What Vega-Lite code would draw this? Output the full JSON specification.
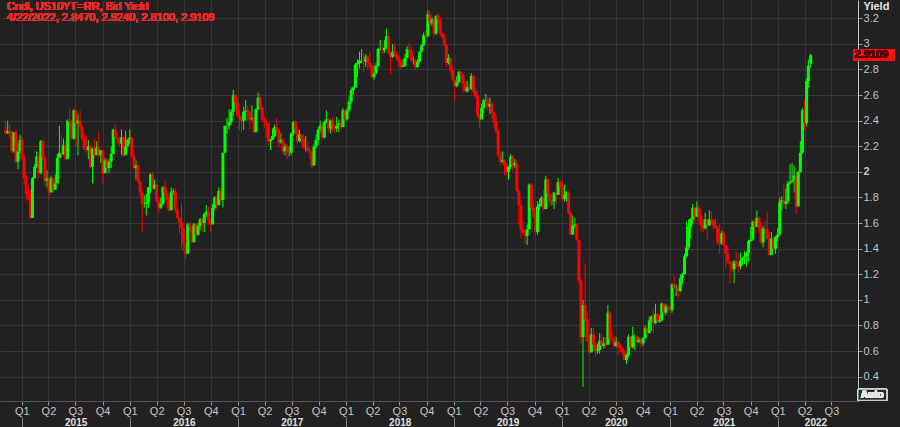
{
"$schema": "https://vega.github.io/schema/vega-lite/v6.json",
"width": 858, "height": 401,
"autosize": {"type": "none"},
"padding": {"left": 0, "top": 0, "right": 42, "bottom": 26},
"background": "#212121",
"config": {"view": {"stroke": null}, "font": "Liberation Sans"},
"data": {"values": [
{"d":"2014-11-07","o":2.33,"h":2.40,"l":2.29,"c":2.30},
{"d":"2014-11-14","o":2.30,"h":2.40,"l":2.30,"c":2.32},
{"d":"2014-11-21","o":2.32,"h":2.37,"l":2.27,"c":2.31},
{"d":"2014-11-28","o":2.31,"h":2.32,"l":2.15,"c":2.16},
{"d":"2014-12-05","o":2.16,"h":2.31,"l":2.15,"c":2.31},
{"d":"2014-12-12","o":2.31,"h":2.33,"l":2.07,"c":2.08},
{"d":"2014-12-19","o":2.08,"h":2.22,"l":2.02,"c":2.16},
{"d":"2014-12-26","o":2.16,"h":2.29,"l":2.14,"c":2.25},
{"d":"2015-01-02","o":2.25,"h":2.27,"l":2.09,"c":2.11},
{"d":"2015-01-09","o":2.11,"h":2.14,"l":1.90,"c":1.95},
{"d":"2015-01-16","o":1.95,"h":1.98,"l":1.77,"c":1.83},
{"d":"2015-01-23","o":1.83,"h":1.90,"l":1.78,"c":1.80},
{"d":"2015-01-30","o":1.80,"h":1.86,"l":1.64,"c":1.64},
{"d":"2015-02-06","o":1.64,"h":1.96,"l":1.64,"c":1.95},
{"d":"2015-02-13","o":1.95,"h":2.06,"l":1.95,"c":2.04},
{"d":"2015-02-20","o":2.04,"h":2.16,"l":2.03,"c":2.12},
{"d":"2015-02-27","o":2.12,"h":2.13,"l":1.95,"c":1.99},
{"d":"2015-03-06","o":1.99,"h":2.25,"l":1.98,"c":2.24},
{"d":"2015-03-13","o":2.24,"h":2.25,"l":2.09,"c":2.11},
{"d":"2015-03-20","o":2.11,"h":2.13,"l":1.89,"c":1.93},
{"d":"2015-03-27","o":1.93,"h":2.01,"l":1.88,"c":1.95},
{"d":"2015-04-03","o":1.95,"h":1.96,"l":1.79,"c":1.84},
{"d":"2015-04-10","o":1.84,"h":1.97,"l":1.84,"c":1.95},
{"d":"2015-04-17","o":1.95,"h":1.95,"l":1.84,"c":1.86},
{"d":"2015-04-24","o":1.86,"h":1.98,"l":1.86,"c":1.91},
{"d":"2015-05-01","o":1.91,"h":2.14,"l":1.91,"c":2.11},
{"d":"2015-05-08","o":2.11,"h":2.36,"l":2.11,"c":2.15},
{"d":"2015-05-15","o":2.15,"h":2.29,"l":2.12,"c":2.14},
{"d":"2015-05-22","o":2.14,"h":2.26,"l":2.13,"c":2.21},
{"d":"2015-05-29","o":2.21,"h":2.24,"l":2.09,"c":2.10},
{"d":"2015-06-05","o":2.10,"h":2.41,"l":2.10,"c":2.40},
{"d":"2015-06-12","o":2.40,"h":2.50,"l":2.35,"c":2.39},
{"d":"2015-06-19","o":2.39,"h":2.41,"l":2.25,"c":2.26},
{"d":"2015-06-26","o":2.26,"h":2.49,"l":2.25,"c":2.48},
{"d":"2015-07-03","o":2.48,"h":2.48,"l":2.20,"c":2.38},
{"d":"2015-07-10","o":2.38,"h":2.45,"l":2.13,"c":2.40},
{"d":"2015-07-17","o":2.40,"h":2.48,"l":2.33,"c":2.35},
{"d":"2015-07-24","o":2.35,"h":2.37,"l":2.24,"c":2.26},
{"d":"2015-07-31","o":2.26,"h":2.30,"l":2.17,"c":2.18},
{"d":"2015-08-07","o":2.18,"h":2.28,"l":2.15,"c":2.17},
{"d":"2015-08-14","o":2.17,"h":2.25,"l":2.10,"c":2.20},
{"d":"2015-08-21","o":2.20,"h":2.21,"l":2.03,"c":2.04},
{"d":"2015-08-28","o":2.04,"h":2.19,"l":1.91,"c":2.18},
{"d":"2015-09-04","o":2.18,"h":2.26,"l":2.11,"c":2.13},
{"d":"2015-09-11","o":2.13,"h":2.24,"l":2.13,"c":2.19},
{"d":"2015-09-18","o":2.19,"h":2.31,"l":2.12,"c":2.13},
{"d":"2015-09-25","o":2.13,"h":2.17,"l":2.07,"c":2.17},
{"d":"2015-10-02","o":2.17,"h":2.17,"l":1.91,"c":1.99},
{"d":"2015-10-09","o":1.99,"h":2.11,"l":1.99,"c":2.09},
{"d":"2015-10-16","o":2.09,"h":2.11,"l":1.98,"c":2.03},
{"d":"2015-10-23","o":2.03,"h":2.10,"l":1.99,"c":2.08},
{"d":"2015-10-30","o":2.08,"h":2.20,"l":2.03,"c":2.14},
{"d":"2015-11-06","o":2.14,"h":2.34,"l":2.14,"c":2.33},
{"d":"2015-11-13","o":2.33,"h":2.37,"l":2.26,"c":2.27},
{"d":"2015-11-20","o":2.27,"h":2.31,"l":2.22,"c":2.26},
{"d":"2015-11-27","o":2.26,"h":2.27,"l":2.20,"c":2.22},
{"d":"2015-12-04","o":2.22,"h":2.33,"l":2.13,"c":2.27},
{"d":"2015-12-11","o":2.27,"h":2.27,"l":2.12,"c":2.13},
{"d":"2015-12-18","o":2.13,"h":2.32,"l":2.13,"c":2.20},
{"d":"2015-12-25","o":2.20,"h":2.26,"l":2.19,"c":2.25},
{"d":"2016-01-01","o":2.25,"h":2.33,"l":2.22,"c":2.27},
{"d":"2016-01-08","o":2.27,"h":2.27,"l":2.11,"c":2.12},
{"d":"2016-01-15","o":2.12,"h":2.16,"l":2.02,"c":2.03},
{"d":"2016-01-22","o":2.03,"h":2.09,"l":1.94,"c":2.05},
{"d":"2016-01-29","o":2.05,"h":2.06,"l":1.91,"c":1.92},
{"d":"2016-02-05","o":1.92,"h":1.94,"l":1.81,"c":1.84},
{"d":"2016-02-12","o":1.84,"h":1.86,"l":1.53,"c":1.75},
{"d":"2016-02-19","o":1.75,"h":1.82,"l":1.72,"c":1.75},
{"d":"2016-02-26","o":1.75,"h":1.83,"l":1.66,"c":1.76},
{"d":"2016-03-04","o":1.76,"h":1.88,"l":1.72,"c":1.88},
{"d":"2016-03-11","o":1.88,"h":1.99,"l":1.83,"c":1.98},
{"d":"2016-03-18","o":1.98,"h":2.00,"l":1.87,"c":1.87},
{"d":"2016-03-25","o":1.87,"h":1.94,"l":1.86,"c":1.90},
{"d":"2016-04-01","o":1.90,"h":1.90,"l":1.76,"c":1.77},
{"d":"2016-04-08","o":1.77,"h":1.80,"l":1.68,"c":1.72},
{"d":"2016-04-15","o":1.72,"h":1.80,"l":1.71,"c":1.75},
{"d":"2016-04-22","o":1.75,"h":1.89,"l":1.74,"c":1.88},
{"d":"2016-04-29","o":1.88,"h":1.93,"l":1.80,"c":1.83},
{"d":"2016-05-06","o":1.83,"h":1.87,"l":1.72,"c":1.78},
{"d":"2016-05-13","o":1.78,"h":1.80,"l":1.69,"c":1.70},
{"d":"2016-05-20","o":1.70,"h":1.88,"l":1.70,"c":1.84},
{"d":"2016-05-27","o":1.84,"h":1.87,"l":1.82,"c":1.85},
{"d":"2016-06-03","o":1.85,"h":1.87,"l":1.68,"c":1.70},
{"d":"2016-06-10","o":1.70,"h":1.72,"l":1.64,"c":1.64},
{"d":"2016-06-17","o":1.64,"h":1.65,"l":1.52,"c":1.61},
{"d":"2016-06-24","o":1.61,"h":1.75,"l":1.40,"c":1.56},
{"d":"2016-07-01","o":1.56,"h":1.56,"l":1.38,"c":1.44},
{"d":"2016-07-08","o":1.44,"h":1.44,"l":1.32,"c":1.36},
{"d":"2016-07-15","o":1.36,"h":1.60,"l":1.36,"c":1.59},
{"d":"2016-07-22","o":1.59,"h":1.61,"l":1.54,"c":1.57},
{"d":"2016-07-29","o":1.57,"h":1.58,"l":1.44,"c":1.45},
{"d":"2016-08-05","o":1.45,"h":1.60,"l":1.45,"c":1.59},
{"d":"2016-08-12","o":1.59,"h":1.60,"l":1.50,"c":1.51},
{"d":"2016-08-19","o":1.51,"h":1.60,"l":1.50,"c":1.58},
{"d":"2016-08-26","o":1.58,"h":1.64,"l":1.55,"c":1.63},
{"d":"2016-09-02","o":1.63,"h":1.64,"l":1.53,"c":1.60},
{"d":"2016-09-09","o":1.60,"h":1.68,"l":1.53,"c":1.67},
{"d":"2016-09-16","o":1.67,"h":1.74,"l":1.65,"c":1.69},
{"d":"2016-09-23","o":1.69,"h":1.73,"l":1.59,"c":1.62},
{"d":"2016-09-30","o":1.62,"h":1.63,"l":1.53,"c":1.59},
{"d":"2016-10-07","o":1.59,"h":1.75,"l":1.59,"c":1.72},
{"d":"2016-10-14","o":1.72,"h":1.81,"l":1.70,"c":1.80},
{"d":"2016-10-21","o":1.80,"h":1.81,"l":1.71,"c":1.74},
{"d":"2016-10-28","o":1.74,"h":1.88,"l":1.74,"c":1.85},
{"d":"2016-11-04","o":1.85,"h":1.87,"l":1.76,"c":1.78},
{"d":"2016-11-11","o":1.78,"h":2.15,"l":1.72,"c":2.15},
{"d":"2016-11-18","o":2.15,"h":2.36,"l":2.15,"c":2.36},
{"d":"2016-11-25","o":2.36,"h":2.42,"l":2.30,"c":2.36},
{"d":"2016-12-02","o":2.36,"h":2.49,"l":2.33,"c":2.39},
{"d":"2016-12-09","o":2.39,"h":2.49,"l":2.37,"c":2.47},
{"d":"2016-12-16","o":2.47,"h":2.64,"l":2.44,"c":2.60},
{"d":"2016-12-23","o":2.60,"h":2.61,"l":2.49,"c":2.54},
{"d":"2016-12-30","o":2.54,"h":2.58,"l":2.43,"c":2.44},
{"d":"2017-01-06","o":2.44,"h":2.49,"l":2.33,"c":2.42},
{"d":"2017-01-13","o":2.42,"h":2.43,"l":2.31,"c":2.40},
{"d":"2017-01-20","o":2.40,"h":2.51,"l":2.33,"c":2.47},
{"d":"2017-01-27","o":2.47,"h":2.56,"l":2.40,"c":2.48},
{"d":"2017-02-03","o":2.48,"h":2.52,"l":2.40,"c":2.47},
{"d":"2017-02-10","o":2.47,"h":2.48,"l":2.33,"c":2.41},
{"d":"2017-02-17","o":2.41,"h":2.52,"l":2.40,"c":2.42},
{"d":"2017-02-24","o":2.42,"h":2.45,"l":2.31,"c":2.31},
{"d":"2017-03-03","o":2.31,"h":2.50,"l":2.31,"c":2.49},
{"d":"2017-03-10","o":2.49,"h":2.62,"l":2.48,"c":2.58},
{"d":"2017-03-17","o":2.58,"h":2.61,"l":2.48,"c":2.50},
{"d":"2017-03-24","o":2.50,"h":2.51,"l":2.40,"c":2.41},
{"d":"2017-03-31","o":2.41,"h":2.43,"l":2.34,"c":2.39},
{"d":"2017-04-07","o":2.39,"h":2.41,"l":2.27,"c":2.38},
{"d":"2017-04-14","o":2.38,"h":2.38,"l":2.21,"c":2.24},
{"d":"2017-04-21","o":2.24,"h":2.26,"l":2.17,"c":2.25},
{"d":"2017-04-28","o":2.25,"h":2.34,"l":2.25,"c":2.28},
{"d":"2017-05-05","o":2.28,"h":2.37,"l":2.27,"c":2.35},
{"d":"2017-05-12","o":2.35,"h":2.42,"l":2.31,"c":2.33},
{"d":"2017-05-19","o":2.33,"h":2.34,"l":2.19,"c":2.23},
{"d":"2017-05-26","o":2.23,"h":2.30,"l":2.22,"c":2.25},
{"d":"2017-06-02","o":2.25,"h":2.26,"l":2.14,"c":2.16},
{"d":"2017-06-09","o":2.16,"h":2.22,"l":2.13,"c":2.20},
{"d":"2017-06-16","o":2.20,"h":2.22,"l":2.10,"c":2.15},
{"d":"2017-06-23","o":2.15,"h":2.20,"l":2.12,"c":2.15},
{"d":"2017-06-30","o":2.15,"h":2.31,"l":2.13,"c":2.30},
{"d":"2017-07-07","o":2.30,"h":2.40,"l":2.28,"c":2.39},
{"d":"2017-07-14","o":2.39,"h":2.40,"l":2.29,"c":2.33},
{"d":"2017-07-21","o":2.33,"h":2.35,"l":2.22,"c":2.24},
{"d":"2017-07-28","o":2.24,"h":2.33,"l":2.23,"c":2.29},
{"d":"2017-08-04","o":2.29,"h":2.30,"l":2.21,"c":2.26},
{"d":"2017-08-11","o":2.26,"h":2.29,"l":2.18,"c":2.19},
{"d":"2017-08-18","o":2.19,"h":2.28,"l":2.16,"c":2.19},
{"d":"2017-08-25","o":2.19,"h":2.24,"l":2.15,"c":2.17},
{"d":"2017-09-01","o":2.17,"h":2.20,"l":2.10,"c":2.16},
{"d":"2017-09-08","o":2.16,"h":2.16,"l":2.03,"c":2.05},
{"d":"2017-09-15","o":2.05,"h":2.22,"l":2.05,"c":2.20},
{"d":"2017-09-22","o":2.20,"h":2.29,"l":2.18,"c":2.25},
{"d":"2017-09-29","o":2.25,"h":2.35,"l":2.21,"c":2.33},
{"d":"2017-10-06","o":2.33,"h":2.40,"l":2.31,"c":2.36},
{"d":"2017-10-13","o":2.36,"h":2.37,"l":2.25,"c":2.27},
{"d":"2017-10-20","o":2.27,"h":2.40,"l":2.26,"c":2.39},
{"d":"2017-10-27","o":2.39,"h":2.48,"l":2.38,"c":2.41},
{"d":"2017-11-03","o":2.41,"h":2.42,"l":2.31,"c":2.34},
{"d":"2017-11-10","o":2.34,"h":2.41,"l":2.30,"c":2.40},
{"d":"2017-11-17","o":2.40,"h":2.43,"l":2.32,"c":2.35},
{"d":"2017-11-24","o":2.35,"h":2.37,"l":2.31,"c":2.34},
{"d":"2017-12-01","o":2.34,"h":2.43,"l":2.31,"c":2.36},
{"d":"2017-12-08","o":2.36,"h":2.41,"l":2.31,"c":2.38},
{"d":"2017-12-15","o":2.38,"h":2.41,"l":2.33,"c":2.35},
{"d":"2017-12-22","o":2.35,"h":2.50,"l":2.35,"c":2.48},
{"d":"2017-12-29","o":2.48,"h":2.49,"l":2.40,"c":2.41},
{"d":"2018-01-05","o":2.41,"h":2.50,"l":2.40,"c":2.48},
{"d":"2018-01-12","o":2.48,"h":2.59,"l":2.47,"c":2.55},
{"d":"2018-01-19","o":2.55,"h":2.66,"l":2.53,"c":2.64},
{"d":"2018-01-26","o":2.64,"h":2.67,"l":2.60,"c":2.66},
{"d":"2018-02-02","o":2.66,"h":2.85,"l":2.66,"c":2.84},
{"d":"2018-02-09","o":2.84,"h":2.88,"l":2.74,"c":2.85},
{"d":"2018-02-16","o":2.85,"h":2.94,"l":2.81,"c":2.87},
{"d":"2018-02-23","o":2.87,"h":2.96,"l":2.85,"c":2.87},
{"d":"2018-03-02","o":2.87,"h":2.93,"l":2.78,"c":2.86},
{"d":"2018-03-09","o":2.86,"h":2.92,"l":2.82,"c":2.90},
{"d":"2018-03-16","o":2.90,"h":2.91,"l":2.80,"c":2.85},
{"d":"2018-03-23","o":2.85,"h":2.94,"l":2.81,"c":2.82},
{"d":"2018-03-30","o":2.82,"h":2.85,"l":2.73,"c":2.74},
{"d":"2018-04-06","o":2.74,"h":2.83,"l":2.72,"c":2.77},
{"d":"2018-04-13","o":2.77,"h":2.85,"l":2.76,"c":2.83},
{"d":"2018-04-20","o":2.83,"h":2.97,"l":2.82,"c":2.96},
{"d":"2018-04-27","o":2.96,"h":3.03,"l":2.95,"c":2.96},
{"d":"2018-05-04","o":2.96,"h":2.99,"l":2.92,"c":2.95},
{"d":"2018-05-11","o":2.95,"h":3.03,"l":2.93,"c":2.97},
{"d":"2018-05-18","o":2.97,"h":3.12,"l":2.96,"c":3.06},
{"d":"2018-05-25","o":3.06,"h":3.07,"l":2.92,"c":2.93},
{"d":"2018-06-01","o":2.93,"h":2.94,"l":2.76,"c":2.90},
{"d":"2018-06-08","o":2.90,"h":3.00,"l":2.89,"c":2.94},
{"d":"2018-06-15","o":2.94,"h":3.01,"l":2.90,"c":2.92},
{"d":"2018-06-22","o":2.92,"h":2.94,"l":2.87,"c":2.89},
{"d":"2018-06-29","o":2.89,"h":2.91,"l":2.82,"c":2.86},
{"d":"2018-07-06","o":2.86,"h":2.88,"l":2.80,"c":2.82},
{"d":"2018-07-13","o":2.82,"h":2.88,"l":2.82,"c":2.83},
{"d":"2018-07-20","o":2.83,"h":2.92,"l":2.82,"c":2.89},
{"d":"2018-07-27","o":2.89,"h":2.98,"l":2.89,"c":2.96},
{"d":"2018-08-03","o":2.96,"h":3.01,"l":2.94,"c":2.95},
{"d":"2018-08-10","o":2.95,"h":2.98,"l":2.86,"c":2.87},
{"d":"2018-08-17","o":2.87,"h":2.90,"l":2.84,"c":2.87},
{"d":"2018-08-24","o":2.87,"h":2.88,"l":2.80,"c":2.82},
{"d":"2018-08-31","o":2.82,"h":2.88,"l":2.81,"c":2.86},
{"d":"2018-09-07","o":2.86,"h":2.94,"l":2.85,"c":2.94},
{"d":"2018-09-14","o":2.94,"h":3.00,"l":2.93,"c":2.99},
{"d":"2018-09-21","o":2.99,"h":3.09,"l":2.98,"c":3.07},
{"d":"2018-09-28","o":3.07,"h":3.11,"l":3.04,"c":3.06},
{"d":"2018-10-05","o":3.06,"h":3.26,"l":3.05,"c":3.23},
{"d":"2018-10-12","o":3.23,"h":3.26,"l":3.13,"c":3.16},
{"d":"2018-10-19","o":3.16,"h":3.21,"l":3.14,"c":3.19},
{"d":"2018-10-26","o":3.19,"h":3.20,"l":3.06,"c":3.08},
{"d":"2018-11-02","o":3.08,"h":3.22,"l":3.07,"c":3.22},
{"d":"2018-11-09","o":3.22,"h":3.24,"l":3.16,"c":3.19},
{"d":"2018-11-16","o":3.19,"h":3.20,"l":3.06,"c":3.08},
{"d":"2018-11-23","o":3.08,"h":3.09,"l":3.04,"c":3.05},
{"d":"2018-11-30","o":3.05,"h":3.08,"l":2.98,"c":2.99},
{"d":"2018-12-07","o":2.99,"h":3.00,"l":2.82,"c":2.85},
{"d":"2018-12-14","o":2.85,"h":2.92,"l":2.84,"c":2.89},
{"d":"2018-12-21","o":2.89,"h":2.89,"l":2.77,"c":2.79},
{"d":"2018-12-28","o":2.79,"h":2.82,"l":2.71,"c":2.72},
{"d":"2019-01-04","o":2.72,"h":2.72,"l":2.55,"c":2.67},
{"d":"2019-01-11","o":2.67,"h":2.75,"l":2.66,"c":2.70},
{"d":"2019-01-18","o":2.70,"h":2.79,"l":2.69,"c":2.78},
{"d":"2019-01-25","o":2.78,"h":2.79,"l":2.71,"c":2.76},
{"d":"2019-02-01","o":2.76,"h":2.77,"l":2.62,"c":2.69},
{"d":"2019-02-08","o":2.69,"h":2.73,"l":2.62,"c":2.63},
{"d":"2019-02-15","o":2.63,"h":2.71,"l":2.62,"c":2.66},
{"d":"2019-02-22","o":2.66,"h":2.69,"l":2.63,"c":2.65},
{"d":"2019-03-01","o":2.65,"h":2.77,"l":2.64,"c":2.75},
{"d":"2019-03-08","o":2.75,"h":2.76,"l":2.61,"c":2.63},
{"d":"2019-03-15","o":2.63,"h":2.66,"l":2.58,"c":2.59},
{"d":"2019-03-22","o":2.59,"h":2.64,"l":2.43,"c":2.44},
{"d":"2019-03-29","o":2.44,"h":2.45,"l":2.34,"c":2.41},
{"d":"2019-04-05","o":2.41,"h":2.53,"l":2.41,"c":2.50},
{"d":"2019-04-12","o":2.50,"h":2.57,"l":2.46,"c":2.56},
{"d":"2019-04-19","o":2.56,"h":2.61,"l":2.55,"c":2.56},
{"d":"2019-04-26","o":2.56,"h":2.59,"l":2.48,"c":2.51},
{"d":"2019-05-03","o":2.51,"h":2.58,"l":2.45,"c":2.53},
{"d":"2019-05-10","o":2.53,"h":2.55,"l":2.42,"c":2.46},
{"d":"2019-05-17","o":2.46,"h":2.47,"l":2.35,"c":2.39},
{"d":"2019-05-24","o":2.39,"h":2.44,"l":2.30,"c":2.32},
{"d":"2019-05-31","o":2.32,"h":2.33,"l":2.12,"c":2.13},
{"d":"2019-06-07","o":2.13,"h":2.16,"l":2.05,"c":2.08},
{"d":"2019-06-14","o":2.08,"h":2.16,"l":2.07,"c":2.09},
{"d":"2019-06-21","o":2.09,"h":2.10,"l":1.97,"c":2.05},
{"d":"2019-06-28","o":2.05,"h":2.07,"l":1.98,"c":2.00},
{"d":"2019-07-05","o":2.00,"h":2.05,"l":1.94,"c":2.04},
{"d":"2019-07-12","o":2.04,"h":2.14,"l":2.02,"c":2.12},
{"d":"2019-07-19","o":2.12,"h":2.13,"l":2.01,"c":2.05},
{"d":"2019-07-26","o":2.05,"h":2.10,"l":2.03,"c":2.07},
{"d":"2019-08-02","o":2.07,"h":2.09,"l":1.84,"c":1.85},
{"d":"2019-08-09","o":1.85,"h":1.86,"l":1.59,"c":1.74},
{"d":"2019-08-16","o":1.74,"h":1.78,"l":1.48,"c":1.55},
{"d":"2019-08-23","o":1.55,"h":1.62,"l":1.51,"c":1.52},
{"d":"2019-08-30","o":1.52,"h":1.55,"l":1.44,"c":1.50},
{"d":"2019-09-06","o":1.50,"h":1.59,"l":1.43,"c":1.55},
{"d":"2019-09-13","o":1.55,"h":1.91,"l":1.55,"c":1.90},
{"d":"2019-09-20","o":1.90,"h":1.91,"l":1.72,"c":1.72},
{"d":"2019-09-27","o":1.72,"h":1.77,"l":1.64,"c":1.68},
{"d":"2019-10-04","o":1.68,"h":1.69,"l":1.51,"c":1.53},
{"d":"2019-10-11","o":1.53,"h":1.77,"l":1.51,"c":1.73},
{"d":"2019-10-18","o":1.73,"h":1.79,"l":1.70,"c":1.75},
{"d":"2019-10-25","o":1.75,"h":1.81,"l":1.73,"c":1.80},
{"d":"2019-11-01","o":1.80,"h":1.86,"l":1.69,"c":1.71},
{"d":"2019-11-08","o":1.71,"h":1.97,"l":1.71,"c":1.94},
{"d":"2019-11-15","o":1.94,"h":1.95,"l":1.81,"c":1.83},
{"d":"2019-11-22","o":1.83,"h":1.83,"l":1.73,"c":1.77},
{"d":"2019-11-29","o":1.77,"h":1.78,"l":1.74,"c":1.77},
{"d":"2019-12-06","o":1.77,"h":1.84,"l":1.71,"c":1.84},
{"d":"2019-12-13","o":1.84,"h":1.91,"l":1.76,"c":1.82},
{"d":"2019-12-20","o":1.82,"h":1.95,"l":1.82,"c":1.92},
{"d":"2019-12-27","o":1.92,"h":1.94,"l":1.87,"c":1.88},
{"d":"2020-01-03","o":1.88,"h":1.93,"l":1.76,"c":1.79},
{"d":"2020-01-10","o":1.79,"h":1.90,"l":1.77,"c":1.82},
{"d":"2020-01-17","o":1.82,"h":1.85,"l":1.77,"c":1.84},
{"d":"2020-01-24","o":1.84,"h":1.85,"l":1.67,"c":1.68},
{"d":"2020-01-31","o":1.68,"h":1.69,"l":1.51,"c":1.51},
{"d":"2020-02-07","o":1.51,"h":1.66,"l":1.51,"c":1.58},
{"d":"2020-02-14","o":1.58,"h":1.64,"l":1.56,"c":1.59},
{"d":"2020-02-21","o":1.59,"h":1.60,"l":1.46,"c":1.47},
{"d":"2020-02-28","o":1.47,"h":1.47,"l":1.12,"c":1.15},
{"d":"2020-03-06","o":1.15,"h":1.17,"l":0.66,"c":0.71},
{"d":"2020-03-13","o":0.71,"h":1.00,"l":0.32,"c":0.96},
{"d":"2020-03-20","o":0.96,"h":1.28,"l":0.83,"c":0.85},
{"d":"2020-03-27","o":0.85,"h":0.91,"l":0.67,"c":0.68},
{"d":"2020-04-03","o":0.68,"h":0.72,"l":0.57,"c":0.59},
{"d":"2020-04-10","o":0.59,"h":0.78,"l":0.59,"c":0.73},
{"d":"2020-04-17","o":0.73,"h":0.78,"l":0.60,"c":0.65},
{"d":"2020-04-24","o":0.65,"h":0.67,"l":0.56,"c":0.60},
{"d":"2020-05-01","o":0.60,"h":0.66,"l":0.58,"c":0.61},
{"d":"2020-05-08","o":0.61,"h":0.74,"l":0.58,"c":0.68},
{"d":"2020-05-15","o":0.68,"h":0.73,"l":0.61,"c":0.64},
{"d":"2020-05-22","o":0.64,"h":0.71,"l":0.62,"c":0.66},
{"d":"2020-05-29","o":0.66,"h":0.71,"l":0.62,"c":0.65},
{"d":"2020-06-05","o":0.65,"h":0.96,"l":0.65,"c":0.90},
{"d":"2020-06-12","o":0.90,"h":0.91,"l":0.65,"c":0.70},
{"d":"2020-06-19","o":0.70,"h":0.77,"l":0.68,"c":0.69},
{"d":"2020-06-26","o":0.69,"h":0.72,"l":0.63,"c":0.64},
{"d":"2020-07-03","o":0.64,"h":0.71,"l":0.63,"c":0.67},
{"d":"2020-07-10","o":0.67,"h":0.68,"l":0.57,"c":0.64},
{"d":"2020-07-17","o":0.64,"h":0.66,"l":0.59,"c":0.62},
{"d":"2020-07-24","o":0.62,"h":0.63,"l":0.57,"c":0.59},
{"d":"2020-07-31","o":0.59,"h":0.61,"l":0.53,"c":0.53},
{"d":"2020-08-07","o":0.53,"h":0.58,"l":0.50,"c":0.57},
{"d":"2020-08-14","o":0.57,"h":0.73,"l":0.55,"c":0.71},
{"d":"2020-08-21","o":0.71,"h":0.71,"l":0.62,"c":0.63},
{"d":"2020-08-28","o":0.63,"h":0.79,"l":0.62,"c":0.72},
{"d":"2020-09-04","o":0.72,"h":0.73,"l":0.61,"c":0.72},
{"d":"2020-09-11","o":0.72,"h":0.72,"l":0.66,"c":0.67},
{"d":"2020-09-18","o":0.67,"h":0.71,"l":0.66,"c":0.69},
{"d":"2020-09-25","o":0.69,"h":0.69,"l":0.63,"c":0.66},
{"d":"2020-10-02","o":0.66,"h":0.71,"l":0.64,"c":0.70},
{"d":"2020-10-09","o":0.70,"h":0.80,"l":0.70,"c":0.78},
{"d":"2020-10-16","o":0.78,"h":0.78,"l":0.71,"c":0.74},
{"d":"2020-10-23","o":0.74,"h":0.87,"l":0.74,"c":0.84},
{"d":"2020-10-30","o":0.84,"h":0.88,"l":0.76,"c":0.87},
{"d":"2020-11-06","o":0.87,"h":0.93,"l":0.74,"c":0.82},
{"d":"2020-11-13","o":0.82,"h":0.97,"l":0.81,"c":0.89},
{"d":"2020-11-20","o":0.89,"h":0.90,"l":0.82,"c":0.83},
{"d":"2020-11-27","o":0.83,"h":0.88,"l":0.82,"c":0.84},
{"d":"2020-12-04","o":0.84,"h":0.98,"l":0.83,"c":0.97},
{"d":"2020-12-11","o":0.97,"h":0.97,"l":0.88,"c":0.90},
{"d":"2020-12-18","o":0.90,"h":0.97,"l":0.88,"c":0.95},
{"d":"2020-12-25","o":0.95,"h":0.96,"l":0.91,"c":0.94},
{"d":"2021-01-01","o":0.94,"h":0.95,"l":0.90,"c":0.92},
{"d":"2021-01-08","o":0.92,"h":1.13,"l":0.90,"c":1.12},
{"d":"2021-01-15","o":1.12,"h":1.19,"l":1.08,"c":1.09},
{"d":"2021-01-22","o":1.09,"h":1.12,"l":1.03,"c":1.09},
{"d":"2021-01-29","o":1.09,"h":1.11,"l":1.01,"c":1.07},
{"d":"2021-02-05","o":1.07,"h":1.20,"l":1.06,"c":1.17},
{"d":"2021-02-12","o":1.17,"h":1.21,"l":1.12,"c":1.20},
{"d":"2021-02-19","o":1.20,"h":1.36,"l":1.20,"c":1.34},
{"d":"2021-02-26","o":1.34,"h":1.61,"l":1.33,"c":1.41},
{"d":"2021-03-05","o":1.41,"h":1.63,"l":1.39,"c":1.57},
{"d":"2021-03-12","o":1.57,"h":1.64,"l":1.48,"c":1.63},
{"d":"2021-03-19","o":1.63,"h":1.75,"l":1.59,"c":1.72},
{"d":"2021-03-26","o":1.72,"h":1.73,"l":1.60,"c":1.65},
{"d":"2021-04-02","o":1.65,"h":1.77,"l":1.65,"c":1.72},
{"d":"2021-04-09","o":1.72,"h":1.74,"l":1.61,"c":1.66},
{"d":"2021-04-16","o":1.66,"h":1.70,"l":1.53,"c":1.58},
{"d":"2021-04-23","o":1.58,"h":1.63,"l":1.53,"c":1.56},
{"d":"2021-04-30","o":1.56,"h":1.68,"l":1.55,"c":1.63},
{"d":"2021-05-07","o":1.63,"h":1.63,"l":1.47,"c":1.58},
{"d":"2021-05-14","o":1.58,"h":1.70,"l":1.58,"c":1.63},
{"d":"2021-05-21","o":1.63,"h":1.69,"l":1.60,"c":1.62},
{"d":"2021-05-28","o":1.62,"h":1.63,"l":1.55,"c":1.58},
{"d":"2021-06-04","o":1.58,"h":1.64,"l":1.56,"c":1.56},
{"d":"2021-06-11","o":1.56,"h":1.58,"l":1.43,"c":1.45},
{"d":"2021-06-18","o":1.45,"h":1.59,"l":1.36,"c":1.44},
{"d":"2021-06-25","o":1.44,"h":1.54,"l":1.43,"c":1.52},
{"d":"2021-07-02","o":1.52,"h":1.53,"l":1.41,"c":1.43},
{"d":"2021-07-09","o":1.43,"h":1.43,"l":1.25,"c":1.36},
{"d":"2021-07-16","o":1.36,"h":1.42,"l":1.28,"c":1.30},
{"d":"2021-07-23","o":1.30,"h":1.30,"l":1.13,"c":1.28},
{"d":"2021-07-30","o":1.28,"h":1.30,"l":1.22,"c":1.24},
{"d":"2021-08-06","o":1.24,"h":1.31,"l":1.13,"c":1.30},
{"d":"2021-08-13","o":1.30,"h":1.38,"l":1.26,"c":1.28},
{"d":"2021-08-20","o":1.28,"h":1.29,"l":1.21,"c":1.26},
{"d":"2021-08-27","o":1.26,"h":1.37,"l":1.24,"c":1.31},
{"d":"2021-09-03","o":1.31,"h":1.33,"l":1.27,"c":1.33},
{"d":"2021-09-10","o":1.33,"h":1.38,"l":1.28,"c":1.34},
{"d":"2021-09-17","o":1.34,"h":1.38,"l":1.26,"c":1.37},
{"d":"2021-09-24","o":1.37,"h":1.47,"l":1.30,"c":1.46},
{"d":"2021-10-01","o":1.46,"h":1.57,"l":1.45,"c":1.47},
{"d":"2021-10-08","o":1.47,"h":1.62,"l":1.46,"c":1.61},
{"d":"2021-10-15","o":1.61,"h":1.63,"l":1.51,"c":1.57},
{"d":"2021-10-22","o":1.57,"h":1.70,"l":1.57,"c":1.64},
{"d":"2021-10-29","o":1.64,"h":1.65,"l":1.52,"c":1.56},
{"d":"2021-11-05","o":1.56,"h":1.61,"l":1.43,"c":1.45},
{"d":"2021-11-12","o":1.45,"h":1.58,"l":1.41,"c":1.56},
{"d":"2021-11-19","o":1.56,"h":1.62,"l":1.52,"c":1.55},
{"d":"2021-11-26","o":1.55,"h":1.69,"l":1.47,"c":1.48},
{"d":"2021-12-03","o":1.48,"h":1.53,"l":1.34,"c":1.35},
{"d":"2021-12-10","o":1.35,"h":1.53,"l":1.35,"c":1.48},
{"d":"2021-12-17","o":1.48,"h":1.50,"l":1.38,"c":1.40},
{"d":"2021-12-24","o":1.40,"h":1.50,"l":1.36,"c":1.49},
{"d":"2021-12-31","o":1.49,"h":1.56,"l":1.46,"c":1.51},
{"d":"2022-01-07","o":1.51,"h":1.80,"l":1.50,"c":1.76},
{"d":"2022-01-14","o":1.76,"h":1.81,"l":1.70,"c":1.78},
{"d":"2022-01-21","o":1.78,"h":1.90,"l":1.72,"c":1.75},
{"d":"2022-01-28","o":1.75,"h":1.87,"l":1.71,"c":1.77},
{"d":"2022-02-04","o":1.77,"h":1.93,"l":1.75,"c":1.91},
{"d":"2022-02-11","o":1.91,"h":2.06,"l":1.90,"c":1.92},
{"d":"2022-02-18","o":1.92,"h":2.07,"l":1.92,"c":1.93},
{"d":"2022-02-25","o":1.93,"h":2.05,"l":1.84,"c":1.97},
{"d":"2022-03-04","o":1.97,"h":1.99,"l":1.67,"c":1.73},
{"d":"2022-03-11","o":1.73,"h":2.01,"l":1.73,"c":2.00},
{"d":"2022-03-18","o":2.00,"h":2.24,"l":1.99,"c":2.15},
{"d":"2022-03-25","o":2.15,"h":2.50,"l":2.14,"c":2.48},
{"d":"2022-04-01","o":2.48,"h":2.56,"l":2.33,"c":2.38},
{"d":"2022-04-08","o":2.38,"h":2.73,"l":2.36,"c":2.71},
{"d":"2022-04-14","o":2.71,"h":2.88,"l":2.66,"c":2.83},
{"d":"2022-04-22","o":2.847,"h":2.924,"l":2.81,"c":2.9109}
]},
"resolve": {"scale": {"x": "shared", "y": "shared"}, "axis": {"x": "independent", "y": "independent"}},
"layer": [
{
"mark": {"type": "rule", "strokeWidth": 1},
"encoding": {
"x": {"field": "d", "type": "temporal",
 "scale": {"type": "utc", "domain": [{"year": 2014, "month": 11, "date": 5, "utc": true}, {"year": 2022, "month": 9, "date": 12, "utc": true}]},
 "axis": {"orient": "bottom", "title": null,
  "values": [{"year":2015,"month":1,"date":1,"utc":true},{"year":2015,"month":4,"date":1,"utc":true},{"year":2015,"month":7,"date":1,"utc":true},{"year":2015,"month":10,"date":1,"utc":true},
   {"year":2016,"month":1,"date":1,"utc":true},{"year":2016,"month":4,"date":1,"utc":true},{"year":2016,"month":7,"date":1,"utc":true},{"year":2016,"month":10,"date":1,"utc":true},
   {"year":2017,"month":1,"date":1,"utc":true},{"year":2017,"month":4,"date":1,"utc":true},{"year":2017,"month":7,"date":1,"utc":true},{"year":2017,"month":10,"date":1,"utc":true},
   {"year":2018,"month":1,"date":1,"utc":true},{"year":2018,"month":4,"date":1,"utc":true},{"year":2018,"month":7,"date":1,"utc":true},{"year":2018,"month":10,"date":1,"utc":true},
   {"year":2019,"month":1,"date":1,"utc":true},{"year":2019,"month":4,"date":1,"utc":true},{"year":2019,"month":7,"date":1,"utc":true},{"year":2019,"month":10,"date":1,"utc":true},
   {"year":2020,"month":1,"date":1,"utc":true},{"year":2020,"month":4,"date":1,"utc":true},{"year":2020,"month":7,"date":1,"utc":true},{"year":2020,"month":10,"date":1,"utc":true},
   {"year":2021,"month":1,"date":1,"utc":true},{"year":2021,"month":4,"date":1,"utc":true},{"year":2021,"month":7,"date":1,"utc":true},{"year":2021,"month":10,"date":1,"utc":true},
   {"year":2022,"month":1,"date":1,"utc":true},{"year":2022,"month":4,"date":1,"utc":true},{"year":2022,"month":7,"date":1,"utc":true}],
  "labelExpr": "'Q' + (floor(utcmonth(datum.value) / 3) + 1)",
  "grid": true, "gridColor": "#363636", "gridWidth": 1,
  "domainColor": "#555555", "tickColor": "#9a9a9a", "tickSize": 4,
  "labelColor": "#c4c4c4", "labelFont": "Liberation Sans", "labelFontSize": 11, "labelPadding": 0,
  "labelOverlap": false, "labelFlush": false, "labelBound": false}},
"y": {"field": "l", "type": "quantitative",
 "scale": {"domain": [0.21, 3.343], "nice": false, "zero": false},
 "axis": {"orient": "right",
  "values": [0.4, 0.6, 0.8, 1, 1.2, 1.4, 1.6, 1.8, 2, 2.2, 2.4, 2.6, 2.8, 3, 3.2],
  "format": "~g", "grid": true, "gridColor": "#363636", "gridWidth": 1,
  "domainColor": "#c8c8c8", "tickColor": "#9a9a9a", "tickSize": 4,
  "labelColor": "#c4c4c4", "labelFont": "Liberation Sans", "labelFontSize": 11, "labelPadding": 1,
  "labelFontWeight": {"condition": {"test": "datum.value == 2", "value": "bold"}, "value": "normal"},
  "labelOverlap": false, "labelFlush": false, "labelBound": false,
  "title": "Yield", "titleAngle": 0, "titleAlign": "left", "titleBaseline": "alphabetic",
  "titleX": 5, "titleY": 9, "titleColor": "#e6e6e6", "titleFont": "Liberation Sans", "titleFontSize": 11, "titleFontWeight": "bold"}},
"y2": {"field": "h"},
"color": {"condition": {"test": "datum.c >= datum.o", "value": "#00ff00"}, "value": "#ff0000"}
}
},
{
"mark": {"type": "bar", "size": 3},
"encoding": {
"x": {"field": "d", "type": "temporal",
 "axis": {"orient": "bottom", "title": null, "offset": 16, "domain": false, "grid": false,
  "values": [{"year":2015,"month":1,"date":1,"utc":true},{"year":2015,"month":7,"date":2,"utc":true},
   {"year":2016,"month":1,"date":1,"utc":true},{"year":2016,"month":7,"date":2,"utc":true},
   {"year":2017,"month":1,"date":1,"utc":true},{"year":2017,"month":7,"date":2,"utc":true},
   {"year":2018,"month":1,"date":1,"utc":true},{"year":2018,"month":7,"date":2,"utc":true},
   {"year":2019,"month":1,"date":1,"utc":true},{"year":2019,"month":7,"date":2,"utc":true},
   {"year":2020,"month":1,"date":1,"utc":true},{"year":2020,"month":7,"date":2,"utc":true},
   {"year":2021,"month":1,"date":1,"utc":true},{"year":2021,"month":7,"date":2,"utc":true},
   {"year":2022,"month":1,"date":1,"utc":true},{"year":2022,"month":5,"date":8,"utc":true}],
  "labelExpr": "utcmonth(datum.value) == 0 ? '' : '' + utcyear(datum.value)",
  "tickSize": 10, "tickColor": "#808080",
  "tickOpacity": {"condition": {"test": "utcmonth(datum.value) == 0", "value": 1}, "value": 0},
  "labelPadding": -10, "labelColor": "#e0e0e0", "labelFont": "Liberation Sans", "labelFontSize": 10, "labelFontWeight": "bold",
  "labelOverlap": false, "labelFlush": false, "labelBound": false}},
"y": {"field": "o", "type": "quantitative", "axis": null},
"y2": {"field": "c"},
"color": {"condition": {"test": "datum.c >= datum.o", "value": "#00ff00"}, "value": "#ff0000"}
}
},
{
"mark": {"type": "text", "align": "left", "baseline": "top", "color": "#e82a2a", "font": "Liberation Sans", "fontSize": 11, "lineHeight": 11, "clip": false},
"encoding": {
"x": {"datum": {"year": 2014, "month": 11, "date": 11, "utc": true}, "type": "temporal", "axis": null},
"y": {"datum": 3.337, "type": "quantitative", "axis": null},
"text": {"value": ["Cndl, US10YT=RR, Bid Yield", "4/22/2022, 2.8470, 2.9240, 2.8100, 2.9109"]}
}
},
{
"mark": {"type": "rect", "color": "#ff1010", "clip": false},
"encoding": {
"x": {"datum": {"year": 2022, "month": 9, "date": 13, "utc": true}, "type": "temporal", "axis": null},
"x2": {"datum": {"year": 2023, "month": 1, "date": 31, "utc": true}},
"y": {"datum": 2.958, "type": "quantitative", "axis": null},
"y2": {"datum": 2.872}
}
},
{
"mark": {"type": "text", "align": "left", "baseline": "middle", "color": "#5a0000", "font": "Liberation Sans", "fontSize": 11, "fontWeight": "bold", "clip": false},
"encoding": {
"x": {"datum": {"year": 2022, "month": 9, "date": 17, "utc": true}, "type": "temporal", "axis": null},
"y": {"datum": 2.914, "type": "quantitative", "axis": null},
"text": {"value": "2.9109"}
}
},
{
"mark": {"type": "rect", "fill": "#2a2a2a", "stroke": "#d8d8d8", "strokeWidth": 1, "clip": false},
"encoding": {
"x": {"datum": {"year": 2022, "month": 9, "date": 29, "utc": true}, "type": "temporal", "axis": null},
"x2": {"datum": {"year": 2023, "month": 1, "date": 4, "utc": true}},
"y": {"datum": 0.302, "type": "quantitative", "axis": null},
"y2": {"datum": 0.216}
}
},
{
"mark": {"type": "text", "align": "center", "baseline": "middle", "color": "#e8e8e8", "font": "Liberation Sans", "fontSize": 10, "fontWeight": "bold", "clip": false},
"encoding": {
"x": {"datum": {"year": 2022, "month": 11, "date": 16, "utc": true}, "type": "temporal", "axis": null},
"y": {"datum": 0.259, "type": "quantitative", "axis": null},
"text": {"value": "Auto"}
}
}
]
}
